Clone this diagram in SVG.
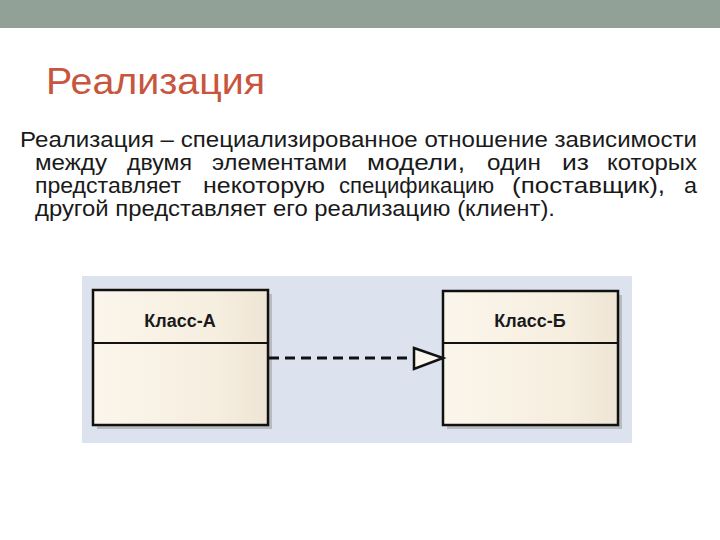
<svg xmlns="http://www.w3.org/2000/svg" width="720" height="540" viewBox="0 0 720 540">
<style>
.title{font-family:"Liberation Sans",Arial,sans-serif;font-size:37px;fill:#C8553D}
.body{font-family:"Liberation Sans",Arial,sans-serif;font-size:22px;fill:#1a1a1a}
.box{fill:url(#cream);stroke:#111;stroke-width:2.5}
.div{stroke:#111;stroke-width:2}
.shadow{fill:#9a9a9a;opacity:0.55}
.lbl{font-family:"Liberation Sans",Arial,sans-serif;font-size:18px;font-weight:bold;fill:#1a1a1a;text-anchor:middle}
</style>
<defs>
<linearGradient id="cream" x1="0" y1="0" x2="1" y2="0">
<stop offset="0" stop-color="#FBF6EC"/>
<stop offset="0.7" stop-color="#F6EEDF"/>
<stop offset="1" stop-color="#EEE5D4"/>
</linearGradient>
</defs>
<rect x="0" y="0" width="720" height="540" fill="#ffffff"/>
<rect x="0" y="0" width="720" height="28" fill="#92A198"/>
<text class="title" x="46" y="94" textLength="219" lengthAdjust="spacingAndGlyphs">Реализация</text>
<text class="body" x="20" y="147" textLength="677" lengthAdjust="spacingAndGlyphs">Реализация – специализированное отношение зависимости</text>
<g class="body">
<text x="35" y="170" textLength="72" lengthAdjust="spacingAndGlyphs">между</text>
<text x="127" y="170" textLength="65" lengthAdjust="spacingAndGlyphs">двумя</text>
<text x="212" y="170" textLength="135" lengthAdjust="spacingAndGlyphs">элементами</text>
<text x="367" y="170" textLength="98" lengthAdjust="spacingAndGlyphs">модели,</text>
<text x="487" y="170" textLength="54" lengthAdjust="spacingAndGlyphs">один</text>
<text x="562" y="170" textLength="27" lengthAdjust="spacingAndGlyphs">из</text>
<text x="607" y="170" textLength="90" lengthAdjust="spacingAndGlyphs">которых</text>
<text x="35" y="193" textLength="146" lengthAdjust="spacingAndGlyphs">представляет</text>
<text x="203" y="193" textLength="122" lengthAdjust="spacingAndGlyphs">некоторую</text>
<text x="339" y="193" textLength="155" lengthAdjust="spacingAndGlyphs">спецификацию</text>
<text x="512" y="193" textLength="153" lengthAdjust="spacingAndGlyphs">(поставщик),</text>
<text x="684" y="193" textLength="13" lengthAdjust="spacingAndGlyphs">а</text>
<text x="35" y="216" textLength="520" lengthAdjust="spacingAndGlyphs">другой представляет его реализацию (клиент).</text>
</g>
<rect x="82" y="276" width="550" height="167" fill="#DCE3EE"/>
<g id="class-a">
<rect class="shadow" x="97" y="294" width="175" height="135"/>
<rect class="box" x="93" y="290" width="175" height="135"/>
<line class="div" x1="93" y1="343" x2="268" y2="343"/>
<text class="lbl" x="180" y="327">Класс-А</text>
</g>
<g id="class-b">
<rect class="shadow" x="447" y="295" width="175" height="134"/>
<rect class="box" x="443" y="291" width="175" height="134"/>
<line class="div" x1="443" y1="343" x2="618" y2="343"/>
<text class="lbl" x="530" y="327">Класс-Б</text>
</g>
<g id="connectors">
<line x1="269" y1="358" x2="414" y2="358" stroke="#111" stroke-width="3" stroke-dasharray="10 6"/>
<polygon points="414,348 443,358 414,369" fill="#FBF7EE" stroke="#111" stroke-width="2.5" stroke-linejoin="miter"/>
</g>
</svg>
